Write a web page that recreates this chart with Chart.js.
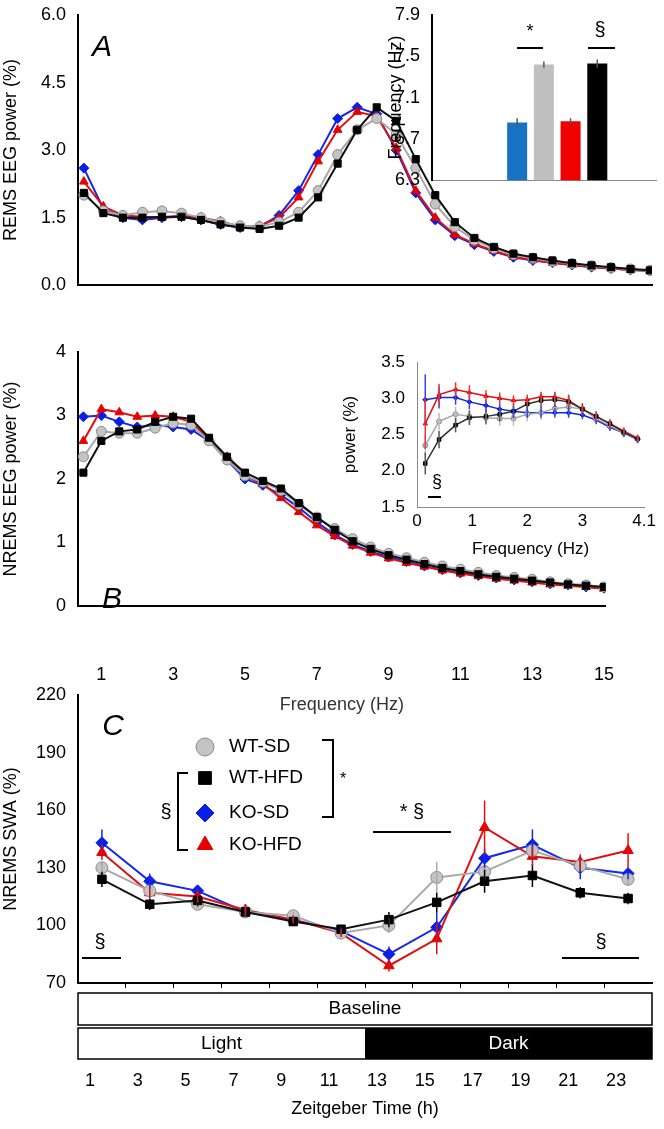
<!DOCTYPE html>
<html>
<head>
<meta charset="utf-8">
<script src="https://cdn.jsdelivr.net/npm/chart.js@4.4.0/dist/chart.umd.min.js"></script>
<style>
  body { margin: 0; background: #fff; width: 664px; height: 1129px; position: relative; overflow: hidden; }
  canvas { position: absolute; }
</style>
</head>
<body>
<canvas id="chartA" style="left:0px;top:0px" width="664" height="300"></canvas>
<canvas id="chartB" style="left:0px;top:320px" width="664" height="400"></canvas>
<canvas id="chartC" style="left:0px;top:650px" width="664" height="479"></canvas>
<canvas id="insetA" style="left:385px;top:0px" width="275" height="195"></canvas>
<canvas id="insetB" style="left:340px;top:340px" width="320" height="220"></canvas>
<script>
// frequency bins (Hz)
var freq = [0.5,1,1.5,2,2.5,3,3.5,4,4.5,5,5.5,6,6.5,7,7.5,8,8.5,9,9.5,10,10.5,11,11.5,12,12.5,13,13.5,14,14.5,15];

// REMS spectra (%)
var remsWTSD  = [2.0,1.65,1.55,1.62,1.65,1.6,1.5,1.4,1.32,1.3,1.4,1.62,2.1,2.9,3.45,3.7,3.35,2.6,1.8,1.3,1.0,0.82,0.68,0.6,0.53,0.48,0.43,0.39,0.36,0.33];
var remsWTHFD = [2.05,1.6,1.5,1.5,1.52,1.52,1.45,1.35,1.28,1.25,1.32,1.5,1.95,2.7,3.45,3.95,3.65,2.8,2.0,1.4,1.05,0.85,0.7,0.62,0.55,0.49,0.44,0.4,0.36,0.33];
var remsKOSD  = [2.6,1.7,1.5,1.45,1.5,1.52,1.45,1.35,1.28,1.3,1.55,2.1,2.9,3.7,3.95,3.8,3.0,2.05,1.45,1.1,0.9,0.75,0.62,0.55,0.5,0.45,0.4,0.37,0.34,0.32];
var remsKOHFD = [2.3,1.75,1.55,1.52,1.5,1.55,1.5,1.42,1.3,1.32,1.5,1.95,2.75,3.45,3.85,3.75,3.05,2.1,1.5,1.12,0.92,0.76,0.63,0.56,0.5,0.45,0.41,0.37,0.34,0.32];

// NREMS spectra (%)
var nremWTSD  = [2.35,2.75,2.72,2.72,2.8,2.88,2.85,2.6,2.3,2.05,1.95,1.82,1.6,1.4,1.22,1.06,0.93,0.83,0.76,0.69,0.63,0.58,0.53,0.48,0.45,0.42,0.38,0.35,0.33,0.3];
var nremWTHFD = [2.1,2.6,2.75,2.78,2.9,2.98,2.95,2.65,2.35,2.1,1.97,1.85,1.62,1.4,1.2,1.02,0.9,0.8,0.73,0.66,0.6,0.55,0.5,0.46,0.43,0.4,0.37,0.34,0.32,0.3];
var nremKOSD  = [2.98,3.0,2.9,2.82,2.85,2.82,2.78,2.6,2.3,2.0,1.9,1.75,1.55,1.32,1.12,0.97,0.86,0.77,0.7,0.63,0.57,0.52,0.48,0.44,0.41,0.38,0.35,0.33,0.3,0.28];
var nremKOHFD = [2.6,3.1,3.05,2.98,3.0,2.98,2.9,2.62,2.35,2.05,1.92,1.7,1.48,1.27,1.1,0.95,0.84,0.75,0.68,0.62,0.56,0.51,0.47,0.43,0.4,0.37,0.34,0.32,0.3,0.27];

// inset A: theta peak frequency (Hz)
var peakGroups = [1,2,3,4];
var peakFreq = [6.86,7.42,6.87,7.43];
var peakErr = [0.04,0.03,0.03,0.04];

// inset B: low frequency NREMS
var lowFreq = [0.15,0.4,0.7,0.95,1.25,1.5,1.75,2.0,2.25,2.5,2.75,3.0,3.25,3.5,3.75,4.0];
var lowWTSD  = [2.35,2.68,2.78,2.75,2.73,2.72,2.72,2.78,2.8,2.86,2.88,2.85,2.72,2.62,2.52,2.44];
var lowWTHFD = [2.1,2.43,2.63,2.73,2.75,2.78,2.82,2.92,2.97,2.98,2.95,2.85,2.75,2.65,2.53,2.44];
var lowKOSD  = [2.98,3.01,3.01,2.95,2.9,2.85,2.82,2.8,2.8,2.8,2.8,2.77,2.7,2.6,2.52,2.43];
var lowKOHFD = [2.65,3.05,3.12,3.08,3.03,3.0,2.97,2.98,3.02,3.02,2.97,2.85,2.75,2.65,2.55,2.45];
var lowErrWT = [0.15,0.12,0.1,0.1,0.1,0.1,0.1,0.1,0.1,0.1,0.1,0.08,0.07,0.06,0.06,0.05];
var lowErrKO = [0.35,0.15,0.1,0.1,0.08,0.08,0.07,0.07,0.07,0.07,0.07,0.06,0.06,0.05,0.05,0.05];

// panel C: NREMS SWA (%)
var zt = [1.5,3.5,5.5,7.5,9.5,11.5,13.5,15.5,17.5,19.5,21.5,23.5];
var ztLabels = [1,3,5,7,9,11,13,15,17,19,21,23];
var swaWTSD  = [130,118,111,107,105,96,100,125,128,139,131,124];
var swaWTHFD = [124,111,113,107,102,98,103,112,123,126,117,114];
var swaKOSD  = [143,123,118,107,103,97,85,99,135,142,130,127];
var swaKOHFD = [138,117,115,108,103,96,79,93,151,136,133,139];
var errWTSD  = [3,3,2,2,2,2,4,8,4,4,3,3];
var errWTHFD = [4,3,3,2,2,2,4,5,6,6,3,3];
var errKOSD  = [7,4,2,2,2,2,4,8,5,8,6,3];
var errKOHFD = [4,3,3,3,2,2,3,8,14,5,4,9];

var FONT = "'Liberation Sans', Arial, sans-serif";
Chart.defaults.font.family = FONT;
Chart.defaults.color = "#000";

function pts(xs, ys) { return xs.map(function (x, i) { return { x: x, y: ys[i] }; }); }

// error bar plugin
var errorBars = {
  id: "errorBars",
  afterDatasetsDraw: function (chart) {
    var ctx = chart.ctx, ys = chart.scales.y;
    chart.data.datasets.forEach(function (ds, i) {
      if (!ds.err) return;
      var meta = chart.getDatasetMeta(i);
      ctx.save();
      ctx.strokeStyle = ds.errColor || ds.borderColor;
      ctx.lineWidth = ds.errWidth || 1.5;
      meta.data.forEach(function (el, j) {
        var v = ds.data[j].y !== undefined ? ds.data[j].y : ds.data[j];
        ctx.beginPath();
        ctx.moveTo(el.x, ys.getPixelForValue(v + ds.err[j]));
        ctx.lineTo(el.x, ys.getPixelForValue(v - ds.err[j]));
        ctx.stroke();
      });
      ctx.restore();
    });
  }
};

function texts(list) {
  return {
    id: "texts",
    afterDraw: function (chart) {
      var ctx = chart.ctx;
      list.forEach(function (t) {
        ctx.save();
        if (t.line) {
          ctx.strokeStyle = "#000"; ctx.lineWidth = t.w || 2;
          ctx.beginPath(); ctx.moveTo(t.line[0], t.line[1]);
          for (var k = 2; k < t.line.length; k += 2) ctx.lineTo(t.line[k], t.line[k + 1]);
          ctx.stroke();
        } else {
          ctx.font = t.font || ("20px " + FONT);
          ctx.fillStyle = t.color || "#000";
          ctx.textAlign = t.align || "center";
          ctx.textBaseline = "middle";
          ctx.fillText(t.text, t.x, t.y);
        }
        ctx.restore();
      });
    }
  };
}

var styles = {
  wtsd:  { pointStyle: "circle",   pointBackgroundColor: "#c4c4c4", pointBorderColor: "#8a8a8a", borderColor: "#a8a8a8", order: 1 },
  wthfd: { pointStyle: "rect",     pointBackgroundColor: "#000",    pointBorderColor: "#000",    borderColor: "#111", order: 0 },
  kosd:  { pointStyle: "rectRot",  pointBackgroundColor: "#0a1ee6", pointBorderColor: "#0a1ee6", borderColor: "#1428e6", order: 3 },
  kohfd: { pointStyle: "triangle", pointBackgroundColor: "#e60000", pointBorderColor: "#e60000", borderColor: "#e01010", order: 2 }
};
function series(key, xs, ys, r, extra) {
  var d = Object.assign({ data: pts(xs, ys), borderWidth: 2, pointRadius: r, pointBorderWidth: 1, showLine: true }, styles[key]);
  return Object.assign(d, extra || {});
}

function axisY(min, max, step, title, width, fmt, size) {
  return {
    min: min, max: max,
    ticks: { stepSize: step, font: { size: size || 18 }, padding: 4, callback: function (v) { return fmt ? v.toFixed(fmt) : v; } },
    grid: { display: false },
    border: { color: "#000", width: 2 },
    title: { display: true, text: title, font: { size: size || 18 }, padding: 0 },
    afterFit: function (s) { s.width = width; }
  };
}

// Panel A
new Chart(document.getElementById("chartA"), {
  type: "scatter",
  data: { datasets: [
    series("wtsd", freq, remsWTSD, 5), series("wthfd", freq, remsWTHFD, 5),
    series("kosd", freq, remsKOSD, 5), series("kohfd", freq, remsKOHFD, 5)
  ] },
  options: {
    responsive: false, animation: false,
    layout: { padding: { top: 15, right: 12 } },
    plugins: { legend: { display: false }, tooltip: { enabled: false } },
    scales: {
      x: { type: "linear", min: 0.35, max: 15.05, ticks: { display: false }, grid: { display: false },
           border: { color: "#000", width: 2 }, afterFit: function (s) { s.height = 3; } },
      y: axisY(0, 6, 1.5, "REMS EEG power (%)", 78, 1)
    }
  },
  plugins: [texts([{ text: "A", x: 102, y: 48, font: "italic 30px " + FONT }])]
});

// Inset A
new Chart(document.getElementById("insetA"), {
  type: "bar",
  data: { datasets: [{
    data: pts(peakGroups, peakFreq), err: peakErr, errColor: "#555", errWidth: 1.5,
    backgroundColor: ["#1a73c2", "#c0c0c0", "#f00000", "#000"],
    barPercentage: 0.75, categoryPercentage: 1
  }] },
  options: {
    responsive: false, animation: false,
    layout: { padding: { top: 15, right: 4 } },
    plugins: { legend: { display: false }, tooltip: { enabled: false } },
    scales: {
      x: { type: "linear", min: -1.14, max: 5.15, ticks: { display: false }, grid: { display: false },
           border: { color: "#888", width: 1 }, afterFit: function (s) { s.height = 10; } },
      y: axisY(6.3, 7.9, 0.4, "Frequency (Hz)", 47, 1)
    }
  },
  plugins: [errorBars, texts([
    { text: "*", x: 145, y: 32, font: "18px " + FONT },
    { line: [132, 48, 158, 48] },
    { text: "§", x: 215, y: 30, font: "20px " + FONT },
    { line: [203, 48, 230, 48] }
  ])]
});

// Panel B
new Chart(document.getElementById("chartB"), {
  type: "scatter",
  data: { datasets: [
    series("wtsd", freq, nremWTSD, 5), series("wthfd", freq, nremWTHFD, 5),
    series("kosd", freq, nremKOSD, 5), series("kohfd", freq, nremKOHFD, 5)
  ] },
  options: {
    responsive: false, animation: false,
    layout: { padding: { top: 32, right: 12 } },
    plugins: { legend: { display: false }, tooltip: { enabled: false } },
    scales: {
      x: { type: "linear", min: 0.35, max: 15.05,
           ticks: { stepSize: 2, font: { size: 18 }, padding: 50, autoSkip: false },
           afterBuildTicks: function (s) { s.ticks = [1,3,5,7,9,11,13,15].map(function (v) { return { value: v }; }); },
           grid: { display: false }, border: { color: "#000", width: 2 },
           title: { display: true, text: "Frequency (Hz)", font: { size: 18 }, color: "#333", padding: 4 },
           afterFit: function (s) { s.height = 114; } },
      y: axisY(0, 4, 1, "NREMS EEG power (%)", 78)
    }
  },
  plugins: [texts([{ text: "B", x: 112, y: 280, font: "italic 30px " + FONT }])]
});

// Inset B
new Chart(document.getElementById("insetB"), {
  type: "scatter",
  data: { datasets: [
    series("wtsd", lowFreq, lowWTSD, 2.5, { err: lowErrWT, errColor: "#bbb", borderWidth: 1.5 }),
    series("wthfd", lowFreq, lowWTHFD, 2.5, { err: lowErrWT, errColor: "#555", borderColor: "#333", borderWidth: 1.5 }),
    series("kosd", lowFreq, lowKOSD, 2.5, { err: lowErrKO, errColor: "#3344ee", borderWidth: 1.5 }),
    series("kohfd", lowFreq, lowKOHFD, 2.5, { err: lowErrKO, errColor: "#ee3333", borderWidth: 1.5 })
  ] },
  options: {
    responsive: false, animation: false,
    layout: { padding: { top: 22, right: 6 } },
    plugins: { legend: { display: false }, tooltip: { enabled: false } },
    scales: {
      x: { type: "linear", min: 0, max: 4.12,
           ticks: { stepSize: 1, font: { size: 17 }, padding: 4 },
           grid: { display: false, drawTicks: false }, border: { color: "#888", width: 1 },
           title: { display: true, text: "Frequency (Hz)", font: { size: 17 }, padding: 0 },
           afterFit: function (s) { s.height = 53; } },
      y: Object.assign(axisY(1.5, 3.5, 0.5, "power (%)", 77, 1, 17), { border: { color: "#888", width: 1 } })
    }
  },
  plugins: [errorBars, texts([
    { text: "§", x: 97, y: 142, font: "18px " + FONT },
    { line: [88, 157, 101, 157] }
  ])]
});

// Panel C
var cDecor = {
  id: "cDecor",
  afterDraw: function (chart) {
    var ctx = chart.ctx, xs = chart.scales.x;
    var l = chart.chartArea.left, r = chart.chartArea.right;
    ctx.save();
    ctx.lineWidth = 1.5; ctx.strokeStyle = "#000";
    ctx.strokeRect(l, 343, r - l, 32);
    ctx.strokeRect(l, 378, r - l, 31);
    var xd = xs.getPixelForValue(12.5);
    ctx.fillStyle = "#000"; ctx.fillRect(xd, 378, r - xd, 31);
    ctx.font = "19px " + FONT; ctx.textAlign = "center"; ctx.textBaseline = "middle";
    ctx.fillText("Baseline", (l + r) / 2, 359);
    ctx.fillText("Light", (l + xd) / 2, 394);
    ctx.fillStyle = "#fff"; ctx.fillText("Dark", (xd + r) / 2, 394);
    ctx.fillStyle = "#000"; ctx.font = "18px " + FONT;
    ztLabels.forEach(function (v) { ctx.fillText(String(v), xs.getPixelForValue(v), 431); });
    ctx.fillText("Zeitgeber Time (h)", (l + r) / 2, 459);
    ctx.restore();
  }
};
var legendC = {
  id: "legendC",
  afterDraw: function (chart) {
    var ctx = chart.ctx;
    var rows = [["wtsd", "WT-SD", 97], ["wthfd", "WT-HFD", 128], ["kosd", "KO-SD", 163], ["kohfd", "KO-HFD", 195]];
    ctx.save();
    rows.forEach(function (row) {
      var st = styles[row[0]];
      ctx.fillStyle = st.pointBackgroundColor; ctx.strokeStyle = st.pointBorderColor; ctx.lineWidth = 1;
      Chart.helpers.drawPoint(ctx, { pointStyle: st.pointStyle, radius: 9, rotation: 0, borderWidth: 1 }, 205, row[2]);
      ctx.fillStyle = "#000"; ctx.font = "19px " + FONT; ctx.textAlign = "left"; ctx.textBaseline = "middle";
      ctx.fillText(row[1], 229, row[2]);
    });
    ctx.restore();
  }
};
new Chart(document.getElementById("chartC"), {
  type: "scatter",
  data: { datasets: [
    series("wtsd", zt, swaWTSD, 6, { err: errWTSD, errColor: "#aaa" }),
    series("wthfd", zt, swaWTHFD, 6, { err: errWTHFD, errColor: "#000" }),
    series("kosd", zt, swaKOSD, 6, { err: errKOSD }),
    series("kohfd", zt, swaKOHFD, 6, { err: errKOHFD })
  ] },
  options: {
    responsive: false, animation: false,
    layout: { padding: { top: 45, right: 12 } },
    plugins: { legend: { display: false }, tooltip: { enabled: false } },
    scales: {
      x: { type: "linear", min: 0.5, max: 24.5,
           ticks: { callback: function () { return ""; }, font: { size: 2 } },
           afterBuildTicks: function (s) { var t = []; for (var v = 2.5; v < 24; v += 2) t.push({ value: v }); s.ticks = t; },
           grid: { drawOnChartArea: false, tickLength: 5, color: "#000" }, border: { color: "#000", width: 2 },
           afterFit: function (s) { s.height = 146; } },
      y: axisY(70, 220, 30, "NREMS SWA (%)", 78)
    }
  },
  plugins: [errorBars, cDecor, legendC, texts([
    { text: "C", x: 113, y: 77, font: "italic 30px " + FONT },
    { line: [322, 90, 333, 90, 333, 167, 322, 167] },
    { text: "*", x: 343, y: 130, font: "16px " + FONT },
    { line: [188, 123, 178, 123, 178, 200, 188, 200] },
    { text: "§", x: 166, y: 162, font: "20px " + FONT },
    { text: "* §", x: 412, y: 162, font: "20px " + FONT },
    { line: [373, 182, 451, 182] },
    { text: "§", x: 100, y: 292, font: "20px " + FONT },
    { line: [82, 308, 121, 308] },
    { text: "§", x: 601, y: 292, font: "20px " + FONT },
    { line: [562, 308, 639, 308] }
  ])]
});
</script>
</body>
</html>
